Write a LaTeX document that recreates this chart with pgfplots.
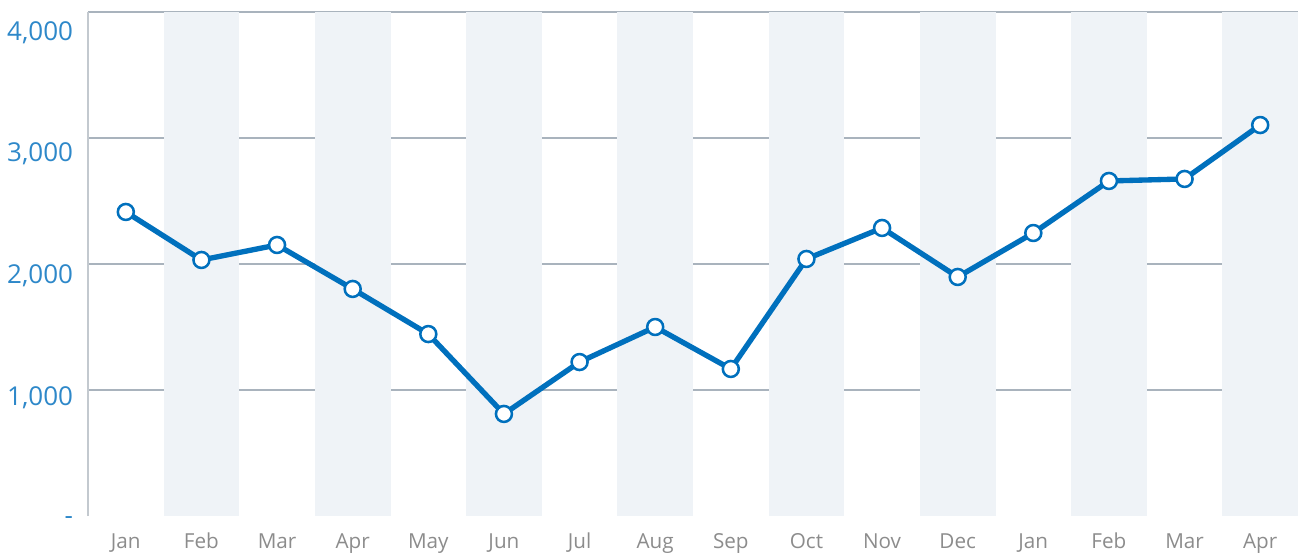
\documentclass[border=0pt]{standalone}
\usepackage{pgfplots}
\pgfplotsset{compat=1.18}
\usepackage{fontspec}
\setmainfont{Open Sans}
\definecolor{lineblue}{HTML}{0070BD}
\definecolor{labblue}{HTML}{2E88C9}
\definecolor{band}{HTML}{EFF3F7}
\definecolor{gridc}{HTML}{A9B3BD}
\definecolor{axc}{HTML}{C3C9CF}
\definecolor{xlab}{HTML}{8C8C8C}
\begin{document}
\begin{tikzpicture}
\begin{axis}[
  at={(0pt,0pt)}, anchor=south west,
  scale only axis, width=907.5pt, height=378pt,
  xmin=-0.5, xmax=15.5, ymin=0, ymax=4000,
  set layers=standard,
  axis y line*=left, axis x line*=bottom,
  x axis line style={draw=none},
  y axis line style={draw=axc, line width=1.1pt},
  xtick={0,...,15},
  xticklabels={Jan,Feb,Mar,Apr,May,Jun,Jul,Aug,Sep,Oct,Nov,Dec,Jan,Feb,Mar,Apr},
  ytick={0,976,1944,2905,3873},
  yticklabels={-,{1,000},{2,000},{3,000},{4,000}},
  major tick length=0pt,
  extra y ticks={1000,2000,3000,4000},
  extra y tick labels={\empty},
  extra y tick style={grid=major, major grid style={draw=gridc, line width=0.8pt}},
  yticklabel style={font=\fontsize{19.5}{19.5}\selectfont, text=labblue, inner sep=0pt, anchor=east, xshift=-11pt, yshift=-3.2pt},
  xticklabel style={font=\fontsize{15.5}{15.5}\selectfont, text=xlab, inner sep=0pt, anchor=base, yshift=-24pt},
  clip=false,
]
\fill[band, on layer=axis background] (axis cs:0.5,0) rectangle (axis cs:1.5,4000);
\fill[band, on layer=axis background] (axis cs:2.5,0) rectangle (axis cs:3.5,4000);
\fill[band, on layer=axis background] (axis cs:4.5,0) rectangle (axis cs:5.5,4000);
\fill[band, on layer=axis background] (axis cs:6.5,0) rectangle (axis cs:7.5,4000);
\fill[band, on layer=axis background] (axis cs:8.5,0) rectangle (axis cs:9.5,4000);
\fill[band, on layer=axis background] (axis cs:10.5,0) rectangle (axis cs:11.5,4000);
\fill[band, on layer=axis background] (axis cs:12.5,0) rectangle (axis cs:13.5,4000);
\fill[band, on layer=axis background] (axis cs:14.5,0) rectangle (axis cs:15.5,4000);
\addplot[lineblue, line width=4pt, line join=round, mark=*, mark size=6pt,
  mark options={fill=white, draw=lineblue, line width=1.9pt}] coordinates {
(0,2413) (1,2032) (2,2151) (3,1802) (4,1444) (5,810) (6,1222) (7,1500)
(8,1167) (9,2040) (10,2286) (11,1897) (12,2246) (13,2659) (14,2675) (15,3103)
};
\end{axis}
\pgfresetboundingbox
\path[use as bounding box] (-66pt,-28.5pt) rectangle (907.5pt,387pt);
\end{tikzpicture}
\end{document}
